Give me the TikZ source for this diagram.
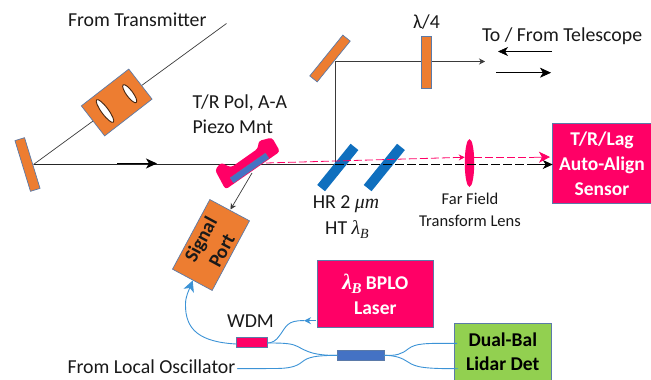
\documentclass[tikz,border=0pt]{standalone}
\usepackage{fontspec}
\setmainfont{Carlito}
\newfontfamily\mathserif{Liberation Serif}
\usetikzlibrary{arrows.meta,shapes.geometric,backgrounds}
\definecolor{orangeF}{HTML}{ED7D31}
\definecolor{edgeB}{HTML}{5B7AA8}
\definecolor{hotpink}{HTML}{FF0066}
\definecolor{mirrorB}{HTML}{0F6FBE}
\definecolor{coupB}{HTML}{4472C4}
\definecolor{greenF}{HTML}{92D050}
\definecolor{fibre}{HTML}{3C93D6}
\definecolor{lineK}{HTML}{3A3A3A}
\newcommand{\mi}[1]{{\mathserif\itshape #1}}
\tikzset{
  x=1pt,y=-1pt,
  opt/.style={draw=edgeB,line width=0.7pt,fill=orangeF,inner sep=0pt,outer sep=0pt},
  bluemirror/.style={fill=mirrorB,draw=none,inner sep=0pt,outer sep=0pt,minimum width=53pt,minimum height=10pt,rotate=51},
  hole/.style={ellipse,draw=black!70!orangeF,line width=0.9pt,fill=white,inner sep=0pt,outer sep=0pt},
  beam/.style={lineK,line width=0.8pt},
  pinkbeam/.style={hotpink,line width=0.8pt,dash pattern=on 8pt off 3pt},
  fib/.style={fibre,line width=0.9pt},
  head/.style={-{Stealth[length=6pt,width=6pt]}},
  bighead/.style={-{Stealth[length=10pt,width=9pt,inset=3pt]}},
  lbl/.style={inner sep=0pt,outer sep=0pt,text=black!90,font=\fontsize{19.8}{22}\selectfont,align=left},
  sensorbox/.style={draw=edgeB,line width=0.7pt,fill=hotpink,text=white,inner sep=0pt,outer sep=0pt,align=center,font=\fontsize{19.5}{25}\selectfont\bfseries},
}
\begin{document}
\begin{tikzpicture}
\useasboundingbox (0,0) rectangle (651,380);
% optics
\node[opt,minimum width=53pt,minimum height=10pt,rotate=-73] (leftmirror) at (27.5,164.5) {};
\node[opt,minimum width=60pt,minimum height=38pt,rotate=37.8] (telebox) at (116.7,102.5) {};
\node[hole,minimum width=28pt,minimum height=7pt,rotate=-53.5] (lensA) at (105,111) {};
\node[hole,minimum width=22pt,minimum height=6.5pt,rotate=-53.5] (lensB) at (129.7,93.7) {};
\node[opt,minimum width=52.5pt,minimum height=9.5pt,rotate=51] (topmirror) at (330,58.5) {};
\node[opt,minimum width=10pt,minimum height=52pt] (qwp) at (426.7,62) {};
\node[bluemirror] (hrA) at (337.8,167.5) {};
\node[bluemirror] (hrB) at (384.3,167.5) {};
\node[ellipse,fill=hotpink,inner sep=0pt,outer sep=0pt,minimum width=9.5pt,minimum height=48pt] (fflens) at (469.5,163) {};
% piezo mount
\fill[hotpink,rounded corners=3pt] (215,170) -- (225.5,189.5) -- (280,151.5) -- (272,137.5) -- (258.5,141) -- (258,148.5) -- (231,167.5) -- (221,162.5) -- cycle;
\node[fill=coupB,draw=edgeB,line width=0.4pt,inner sep=0pt,outer sep=0pt,minimum width=43pt,minimum height=6pt,rotate=35] (polmirror) at (249.5,168) {};
% boxes
\node[sensorbox,minimum width=98.5pt,minimum height=80pt,anchor=north west] (sensor) at (552.7,123.3) {T/R/Lag\\Auto-Align\\Sensor};
\node[sensorbox,minimum width=116pt,minimum height=67.7pt,anchor=north west] (bplo) at (317.3,260) {{\fontsize{22}{24}\selectfont\mi{λ}\kern-0.5pt\raisebox{-4pt}{\fontsize{15}{15}\selectfont\mi{B}}}\ BPLO\\Laser};
\node[draw=edgeB,line width=0.7pt,fill=greenF,text=black,inner sep=0pt,outer sep=0pt,align=center,font=\fontsize{19.5}{24}\selectfont\bfseries,minimum width=97pt,minimum height=57pt,anchor=north west] (det) at (454.3,323.3) {Dual-Bal\\Lidar Det};
\node[opt,rotate=61.8,minimum width=79pt,minimum height=45pt,text=black!90,align=center,font=\fontsize{19.5}{24}\selectfont\bfseries] (sigport) at (211,245) {Signal\\Port};
\node[fill=hotpink,draw=edgeB,line width=0.6pt,inner sep=0pt,outer sep=0pt,minimum width=31pt,minimum height=10.4pt] (wdm) at (251.7,342.5) {};
\node[fill=coupB,draw=edgeB,line width=0.6pt,inner sep=0pt,outer sep=0pt,minimum width=46.7pt,minimum height=10pt] (coupler) at (360.7,355) {};
% labels
\node[lbl,anchor=west] (ltx) at (68,19.5) {From Transmitter};
\node[lbl,anchor=west] (lpol) at (192.5,102.5) {T/R Pol, A-A};
\node[lbl,anchor=west] (lpiezo) at (192.5,126.5) {Piezo Mnt};
\node[lbl,anchor=west] (ltele) at (482,36) {To / From Telescope};
\node[lbl,anchor=center] (lqw) at (426.5,22) {λ/4};
\node[lbl,anchor=center] (lhr) at (346,204) {HR 2 \mi{μm}};
\node[lbl,anchor=center] (lht) at (347,229.5) {HT \mi{λ}\raisebox{-4pt}{\fontsize{14}{14}\selectfont\mi{B}}};
\node[lbl,anchor=center,align=center,font=\fontsize{16.5}{21.5}\selectfont] (lff) at (470,210) {Far Field\\Transform Lens};
\node[lbl,anchor=center] (lwdm) at (250.5,321) {WDM};
\node[lbl,anchor=west] (llo) at (67.5,367) {From Local Oscillator};
% beam coordinates
\coordinate (txend) at (226.5,23.5);
\coordinate (bounce) at (33.5,164.5);
\coordinate (fold) at (335,164.5);
\coordinate (foldtop) at (335,61.5);
\coordinate (out) at (485,61.5);
\coordinate (dirA1) at (117,163.5); \coordinate (dirA2) at (157,163.5);
\coordinate (tfA1) at (552,51.5); \coordinate (tfA2) at (498,51.5);
\coordinate (tfB1) at (496,72.7); \coordinate (tfB2) at (551,72.7);
\coordinate (pinkstart) at (266,163);
\coordinate (sigstart) at (252,173);
\coordinate (porttop) at (230.5,209.5);
\coordinate (portbot) at (192.7,280.5);
\coordinate (bplotail) at (316,320.7);
\coordinate (bplotip) at (304,320.7);
\coordinate (wdmL) at (236.2,344);
\coordinate (wdmR) at (267.2,343);
\coordinate (cpL) at (337.3,355.3);
\coordinate (cpR) at (384,355.3);
\coordinate (loend) at (237,368.7);
\coordinate (detA) at (457,343.3);
\coordinate (detB) at (458,368.7);
% connectors under the optics
\begin{pgfonlayer}{background}
\draw[lineK,line width=0.7pt] (txend) -- (bounce);
\draw[line width=0.8pt,black!85] (bounce) -- (fold);
\draw[beam] (fold) -- (foldtop);
\draw[beam,head] (foldtop) -- (out);
\end{pgfonlayer}
% connectors above
\draw[black,line width=1.2pt,-{Stealth[length=11pt,width=10pt,inset=3pt]}] (dirA1) -- (dirA2);
\draw[black,line width=0.6pt,-{Stealth[length=10pt,width=9pt,inset=3pt]}] (tfA1) -- (tfA2);
\draw[black,line width=0.6pt,-{Stealth[length=11pt,width=10pt,inset=3pt]}] (tfB1) -- (tfB2);
\draw[lineK,line width=0.7pt,head] (sigstart) -- (porttop);
% dashed beams
\draw[black,line width=0.8pt,dash pattern=on 9pt off 3pt] (fold) -- (535,164.5);
\draw[black,line width=0.8pt,bighead] (535,164.5) -- (sensor.west |- 0,164.5);
\draw[pinkbeam] (pinkstart) -- (457,157.5);
\draw[hotpink,line width=0.8pt,-{Stealth[length=6pt,width=6pt]}] (457,157.5) -- (fflens.west |- 0,157.3);
\draw[pinkbeam] (fflens.east |- 0,157.3) -- (534,157.3);
\draw[hotpink,line width=0.8pt,-{Stealth[length=11pt,width=11pt,inset=3pt]}] (534,157.3) -- (550,157);
% fibres
\draw[fib,-{Stealth[length=11pt,width=11pt,inset=3pt]}] (wdmL) .. controls (200,342) and (185,330) .. (185.5,304) .. controls (185.6,296) and (189,290) .. (portbot);
\draw[fib] (bplotip) .. controls (287,320) and (286,327) .. (280,335) .. controls (276,341) and (272,343) .. (wdmR);
\draw[fib,{Stealth[length=7pt,width=7pt]}-] (bplotip) -- (bplotail);
\draw[fib] (wdmR) .. controls (278,343) and (288,343) .. (294,345) .. controls (303,348) and (308,356) .. (cpL);
\draw[fib] (loend) -- (275,368.5) .. controls (288,368.5) and (296,367) .. (302,362) .. controls (308,357) and (315,355.5) .. (cpL);
\draw[fib] (cpR) .. controls (396,356) and (402,354) .. (408,349) .. controls (416,343) and (425,343.3) .. (detA);
\draw[fib] (cpR) .. controls (396,355.5) and (402,358) .. (408,362) .. controls (416,367.5) and (425,368.7) .. (detB);
\end{tikzpicture}
\end{document}
